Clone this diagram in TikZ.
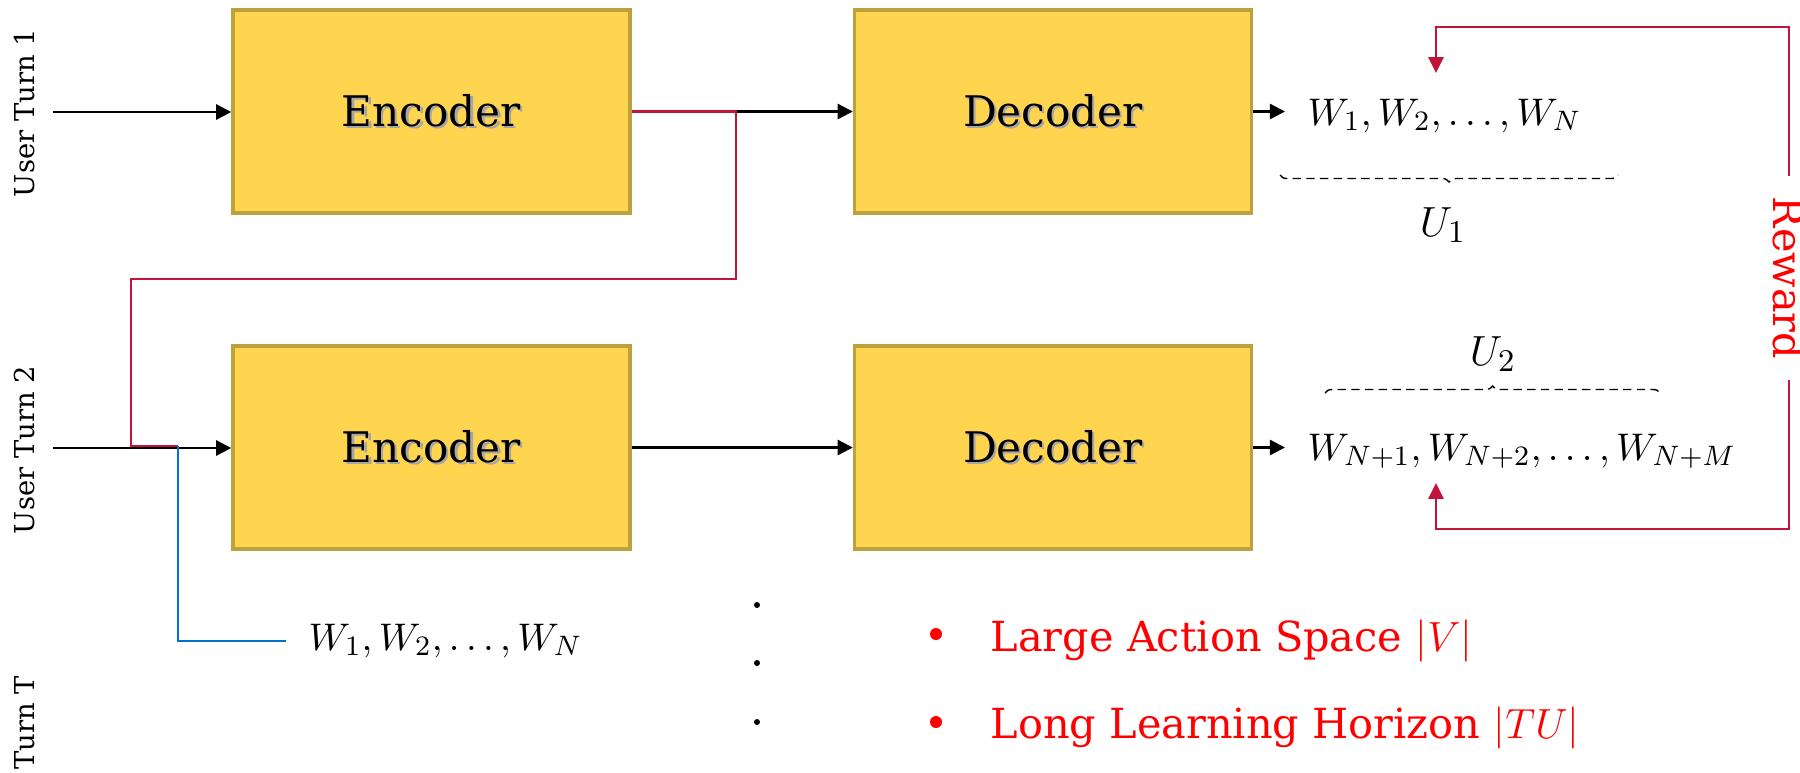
\documentclass[tikz,border=0pt]{standalone}
\usepackage{fontspec}
\setmainfont{DejaVu Serif}
\usetikzlibrary{arrows.meta,positioning,decorations.pathreplacing}

\definecolor{boxfill}{RGB}{255,213,79}
\definecolor{boxedge}{RGB}{190,160,62}
\definecolor{crimson}{RGB}{192,20,58}
\definecolor{linkblue}{RGB}{0,114,212}

% text with a light drop shadow
\newcommand\softshadow[1]{\makebox[0pt][l]{\hspace{0.6pt}\raisebox{-0.6pt}{\color{black!35}#1}}#1}

\begin{document}
\begin{tikzpicture}[x=0.1mm,y=-0.1mm,
	block/.style={draw=boxedge,fill=boxfill,line width=1pt,minimum width=39.7mm,minimum height=20.3mm,inner sep=0pt,font=\fontsize{12}{14}\selectfont},
	flow/.style={-{Triangle[length=4.3pt,width=4.3pt]},line width=0.7pt},
	back/.style={draw=crimson,line width=0.6pt},
	headed/.style={-{Triangle[length=4.5pt,width=4.3pt]}},
	turn/.style={rotate=90,inner sep=0pt,font=\fontsize{7.8}{10}\selectfont},
	seq/.style={anchor=base west,inner xsep=2.2mm,font=\fontsize{11}{14}\selectfont},
	brc/.style={decorate,decoration={brace,amplitude=0.7mm},line width=0.4pt,dash pattern=on 2.4pt off 1.5pt},
	issue/.style={anchor=base west,inner sep=0pt,text=red,font=\fontsize{11.8}{14}\selectfont}]
\useasboundingbox (0,0) rectangle (1800,772);

% encoder / decoder pairs, one row per turn
\foreach \r/\y in {1/111.5,2/447.5}{
	\node[block] (enc\r) at (431.5,\y) {\softshadow{Encoder}};
	\node[block] (dec\r) at (1053,\y) {\softshadow{Decoder}};
}

\node[turn] (t1) at (25,113) {User Turn 1};
\node[turn] (t2) at (25,450) {User Turn 2};
\node[turn,anchor=east] (tT) at (25,675) {User Turn T};

\coordinate (in1) at (53,112);
\coordinate (in2) at (53,448);
\draw[flow] (in1) -- (in1 -| enc1.west);
\draw[flow] (in2) -- (in2 -| enc2.west);
\draw[flow] (enc2.east) -- (dec2.west);

% state of turn 1 carried over into turn 2
\coordinate (split) at (736,111.5);
\coordinate (loop) at (131,279);
\coordinate (tap) at (178,446);
\draw[flow] (split) -- (dec1.west);
\draw[back] (enc1.east) -- (split) |- (loop) |- (tap);

% decoder outputs
\node[seq] (out1) at (1285,125) {$W_1, W_2, \ldots, W_N$};
\node[seq] (out2) at (1285,460) {$W_{N+1}, W_{N+2}, \ldots, W_{N+M}$};
\draw[flow] (dec1.east) -- (dec1.east -| out1.west);
\draw[flow] (dec2.east) -- (dec2.east -| out2.west);

\node[seq] (hist) at (286,650) {$W_1, W_2, \ldots, W_N$};
\draw[linkblue,line width=0.6pt] (tap) |- (hist.west);

% utterances
\draw[brc,decoration={mirror}] (1280,175) -- (1618,175);
\draw[brc] (1325,393) -- (1660,393);
\node[font=\fontsize{12.5}{14}\selectfont] (u1) at (1443,225) {$U_1$};
\node[font=\fontsize{12.5}{14}\selectfont] (u2) at (1493,354) {$U_2$};

% reward fed back to both outputs
\node[rotate=-90,text=red,inner xsep=2mm,font=\fontsize{11.8}{14}\selectfont] (rwd) at (1789,278) {Reward};
\coordinate (r1) at (1436,27);
\coordinate (r1tip) at (1436,73);
\coordinate (r2) at (1436,529);
\coordinate (r2tip) at (1436,483);
\draw[back,headed] (rwd.west) |- (r1) -- (r1tip);
\draw[back,headed] (rwd.east) |- (r2) -- (r2tip);

\foreach \y in {605,663,722}
	\fill (757,\y) circle (0.3mm);

\foreach \y in {634,722}
	\fill[red] (936,\y) circle (0.6mm);
\node[issue] (p1) at (990,651) {Large Action Space $|V|$};
\node[issue] (p2) at (990,738) {Long Learning Horizon $|TU|$};
\end{tikzpicture}
\end{document}
